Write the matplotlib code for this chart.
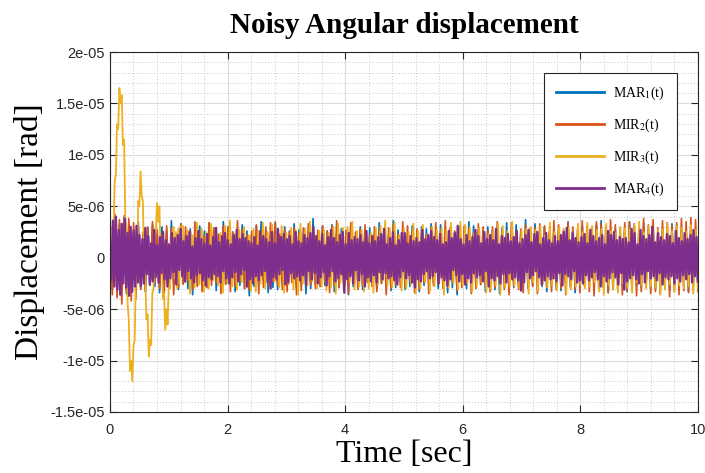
import numpy as np
import matplotlib
matplotlib.use('Agg')
import matplotlib.pyplot as plt
from matplotlib.ticker import MultipleLocator

plt.rcParams['mathtext.fontset'] = 'stix'

# Displacement samples, in units of 1e-7 rad
mar1 = [22, -31, 27, -24, 33, -29, 25, -35, 30, -21,
        28, -26, 35, -30, 23, -33, 29, -25, 32, -28,
        24, -34, 30, -22, 27, -29, 36, -26, 21, -31,
        33, -25, 20, -30, 28, -36, 24, -27, 31, -23,
        26, -29, 34, -21, 29, -32, 22, -28, 35, -25,
        30, -23, 25, -33, 21, -27, 32, -30, 26, -37,
        23, -28, 31, -26, 35, -22, 27, -34, 24, -29,
        34, -31, 22, -25, 30, -28, 26, -21, 33, -30,
        27, -24, 29, -35, 24, -30, 38, -26, 22, -28,
        31, -27, 26, -22, 32, -33, 23, -29, 28, -24,
        25, -36, 33, -28, 21, -26, 30, -31, 27, -23,
        29, -22, 24, -30, 34, -25, 28, -27, 22, -32,
        36, -29, 27, -24, 25, -31, 21, -28, 31, -26,
        23, -33, 30, -27, 28, -22, 33, -25, 26, -30,
        32, -26, 22, -34, 27, -29, 25, -36, 30, -24,
        26, -30, 35, -23, 31, -28, 24, -26, 21, -33,
        30, -25, 27, -31, 23, -35, 29, -22, 34, -28,
        22, -29, 32, -26, 26, -24, 37, -30, 25, -27,
        33, -23, 25, -28, 30, -33, 22, -27, 28, -31,
        27, -32, 21, -25, 35, -29, 26, -34, 23, -26,
        31, -27, 29, -23, 24, -30, 32, -25, 36, -29,
        24, -34, 26, -31, 28, -22, 23, -28, 30, -33,
        35, -25, 31, -27, 22, -29, 34, -24, 27, -30,
        28, -30, 24, -35, 29, -26, 21, -31, 33, -27,
        32, -24, 27, -29, 25, -33, 30, -26, 23, -28]

mir2 = [28, -36, 43, -39, 37, -45, 41, -33, 38, -42,
        34, -40, 29, -31, 25, -33, 30, -27, 35, -24,
        27, -30, 22, -34, 31, -25, 28, -36, 23, -29,
        33, -26, 30, -22, 26, -31, 35, -28, 24, -33,
        21, -29, 34, -27, 29, -24, 23, -35, 31, -26,
        30, -33, 25, -28, 36, -22, 27, -30, 22, -31,
        26, -24, 32, -35, 24, -29, 30, -26, 34, -23,
        35, -27, 23, -31, 28, -33, 25, -24, 29, -36,
        24, -32, 29, -25, 33, -27, 22, -30, 27, -28,
        31, -23, 26, -34, 30, -26, 36, -29, 23, -31,
        27, -35, 34, -22, 25, -31, 28, -27, 32, -24,
        22, -28, 30, -33, 27, -25, 24, -36, 29, -30,
        33, -26, 23, -29, 35, -28, 31, -22, 26, -34,
        28, -31, 27, -24, 22, -35, 30, -27, 34, -25,
        25, -30, 36, -28, 29, -23, 26, -32, 24, -29,
        31, -24, 28, -35, 23, -30, 33, -26, 30, -27,
        26, -33, 30, -29, 35, -25, 27, -31, 22, -36,
        34, -27, 24, -31, 28, -34, 32, -24, 29, -28,
        29, -35, 33, -26, 31, -29, 25, -33, 36, -27,
        32, -30, 27, -36, 34, -28, 30, -31, 28, -34,
        36, -28, 31, -33, 29, -37, 35, -30, 33, -29,
        30, -34, 37, -29, 32, -31, 28, -36, 34, -32,
        35, -31, 33, -37, 30, -33, 38, -29, 32, -35,
        37, -33, 29, -35, 36, -30, 34, -38, 31, -33,
        34, -36, 38, -32, 35, -34, 39, -31, 37, -33]

# MIR3: the early ringing (0 - 1.2 s, sampled every 0.02 s) then the noise
mir3_early = [5, -20, 30, 20, 75, 80, 130, 125, 165, 150,
              158, 110, 115, 40, 30, -45, -60, -110, -100, -120,
              -85, -80, -20, -10, 55, 50, 84, 60, 55, -5,
              -15, -60, -55, -96, -80, -85, -35, -30, 20, 25,
              53, 35, 50, 10, 0, -40, -35, -70, -50, -65,
              -25, -30, 15, 5, 30, -20, 25, -30, 28, -25,
              30]
mir3_late = [31, -24, 27, -35, 22, -29, 34, -26, 28, -33,
             25, -30, 33, -22, 29, -27, 24, -34, 31, -25,
             36, -28, 23, -31, 27, -24, 30, -29, 22, -32,
             28, -33, 26, -25, 34, -30, 25, -27, 32, -23,
             22, -29, 31, -34, 24, -26, 29, -31, 27, -36,
             33, -25, 28, -27, 35, -23, 22, -30, 26, -28,
             27, -32, 24, -29, 30, -35, 33, -24, 29, -26,
             30, -23, 35, -31, 26, -28, 27, -33, 24, -30,
             24, -34, 29, -26, 31, -22, 36, -27, 28, -29,
             34, -27, 22, -32, 28, -30, 25, -26, 33, -35,
             26, -30, 32, -24, 23, -33, 30, -28, 27, -25,
             29, -36, 27, -29, 34, -25, 24, -31, 35, -27,
             32, -25, 30, -33, 25, -28, 29, -24, 22, -34,
             23, -31, 26, -27, 33, -36, 31, -29, 26, -28,
             35, -28, 24, -30, 27, -25, 28, -35, 30, -24,
             27, -33, 31, -26, 22, -29, 34, -27, 25, -32,
             30, -24, 28, -35, 29, -31, 23, -28, 33, -26,
             25, -30, 34, -28, 31, -24, 27, -33, 28, -36,
             33, -27, 26, -31, 24, -34, 30, -25, 29, -29,
             28, -34, 32, -24, 35, -27, 25, -30, 31, -28,
             24, -29, 27, -36, 28, -31, 33, -26, 26, -33,
             31, -27, 29, -30, 25, -28, 32, -35, 27, -30]

mar4 = [15, -22, 36, -28, 40, -31, 27, -36, 33, -25,
        38, -29, 24, -37, 30, -33, 26, -28, 31, -24,
        22, -27, 18, -25, 29, -16, 21, -26, 14, -23,
        27, -19, 12, -24, 20, -15, 25, -21, 17, -28,
        13, -20, 24, -14, 19, -26, 22, -12, 28, -18,
        16, -23, 21, -13, 25, -20, 11, -24, 19, -17,
        26, -15, 18, -22, 14, -27, 23, -19, 12, -21,
        20, -16, 29, -18, 15, -24, 21, -13, 24, -20,
        17, -25, 13, -19, 22, -14, 27, -23, 18, -16,
        23, -12, 19, -28, 16, -21, 14, -25, 20, -18,
        12, -22, 26, -17, 21, -13, 18, -24, 15, -30,
        25, -19, 14, -21, 28, -16, 20, -12, 23, -26,
        18, -24, 21, -15, 13, -20, 25, -18, 16, -22,
        14, -17, 22, -26, 19, -13, 24, -21, 30, -15,
        21, -25, 16, -19, 23, -14, 12, -27, 20, -18,
        27, -13, 19, -23, 15, -20, 22, -16, 25, -34,
        13, -21, 24, -18, 17, -25, 20, -12, 18, -22,
        22, -16, 15, -28, 26, -19, 14, -23, 21, -17,
        16, -24, 20, -14, 23, -21, 28, -15, 13, -20,
        19, -18, 25, -22, 12, -26, 17, -19, 24, -13,
        24, -20, 14, -17, 21, -24, 16, -29, 19, -21,
        15, -23, 27, -16, 18, -13, 22, -20, 26, -18,
        20, -14, 17, -25, 23, -19, 13, -22, 15, -27,
        26, -21, 19, -12, 24, -17, 31, -23, 18, -16,
        13, -26, 22, -20, 16, -24, 20, -15, 27, -19,
        21, -17, 14, -23, 25, -13, 18, -28, 22, -20,
        17, -22, 28, -18, 13, -25, 21, -16, 19, -24,
        23, -15, 16, -21, 20, -19, 26, -22, 14, -32,
        18, -24, 22, -14, 27, -20, 15, -17, 23, -13,
        25, -19, 13, -26, 19, -22, 24, -18, 17, -21,
        14, -20, 21, -23, 16, -15, 22, -27, 25, -16,
        29, -18, 17, -21, 24, -13, 19, -24, 15, -22,
        20, -25, 23, -17, 14, -22, 27, -19, 21, -14,
        16, -21, 19, -28, 22, -18, 13, -23, 26, -20,
        22, -14, 25, -19, 17, -26, 20, -15, 18, -31,
        19, -23, 15, -20, 28, -17, 24, -21, 13, -25,
        27, -16, 21, -24, 18, -13, 22, -20, 30, -18,
        15, -22, 24, -15, 20, -26, 17, -19, 23, -21,
        21, -18, 14, -25, 26, -20, 19, -23, 16, -17,
        24, -21, 18, -16, 22, -24, 27, -18, 20, -23]

labels = [r'MAR$_1$(t)', r'MIR$_2$(t)', r'MIR$_3$(t)', r'MAR$_4$(t)']
colors = ['#0072BD', '#D95319', '#EDB120', '#7E2F8E']

t1 = np.linspace(0, 10, len(mar1))
t2 = np.linspace(0, 10, len(mir2))
t3 = np.concatenate([np.linspace(0, 1.2, len(mir3_early)),
                     np.linspace(1.24, 10, len(mir3_late))])
t4 = np.linspace(0, 10, len(mar4))
mir3 = mir3_early + mir3_late

series = [(t1, mar1), (t2, mir2), (t3, mir3), (t4, mar4)]
widths = [1.2, 1.2, 1.3, 1.7]

xticks = [0, 2, 4, 6, 8, 10]
yticks = [-1.5e-5, -1e-5, -5e-6, 0, 5e-6, 1e-5, 1.5e-5, 2e-5]
ytick_labels = ['-1.5e-05', '-1e-05', '-5e-06', '0', '5e-06', '1e-05', '1.5e-05', '2e-05']

fig = plt.figure(figsize=(7.05, 4.73), dpi=100)
ax = fig.add_axes([0.156, 0.129, 0.834, 0.761])

for (t, vals), col, lab, lw in zip(series, colors, labels, widths):
    ax.plot(t, np.array(vals) * 1e-7, color=col, lw=lw, label=lab)

ax.set_xlim(0, 10)
ax.set_ylim(-1.5e-5, 2e-5)
ax.set_xticks(xticks)
ax.set_xticklabels([str(v) for v in xticks])
ax.set_yticks(yticks)
ax.set_yticklabels(ytick_labels)
ax.xaxis.set_minor_locator(MultipleLocator(0.4))
ax.yaxis.set_minor_locator(MultipleLocator(1e-6))

ax.grid(which='major', color='#dcdcdc', lw=0.8, ls='-')
ax.grid(which='minor', color='#c8c8c8', lw=0.7, ls=(0, (1, 2)))
ax.set_axisbelow(True)

ax.tick_params(which='major', direction='in', length=5, top=True, right=True,
               labelsize=10.5, colors='#262626', width=0.8)
ax.tick_params(which='minor', length=0, top=True, right=True)
for lbl in ax.get_xticklabels() + ax.get_yticklabels():
    lbl.set_family('Liberation Sans')
ax.tick_params(axis='x', pad=8)
for sp in ax.spines.values():
    sp.set_color('#262626')
    sp.set_linewidth(0.8)

ax.set_title('Noisy Angular displacement', family='Liberation Serif',
             fontweight='bold', fontsize=21, pad=14)
ax.set_xlabel('Time [sec]', family='Liberation Serif', fontsize=23, labelpad=2)
ax.set_ylabel('Displacement [rad]', family='Liberation Serif', fontsize=24, labelpad=4)

leg = ax.legend(loc='upper right', bbox_to_anchor=(0.964, 0.942),
                prop={'family': 'Liberation Serif', 'size': 10},
                fancybox=False, framealpha=1, edgecolor='#262626',
                labelspacing=1.05, handlelength=3.4, handletextpad=0.7,
                borderpad=0.85, borderaxespad=0)
leg.get_frame().set_linewidth(0.8)
for h in leg.get_lines():
    h.set_linewidth(2)

fig.savefig('out.png', dpi=100)
